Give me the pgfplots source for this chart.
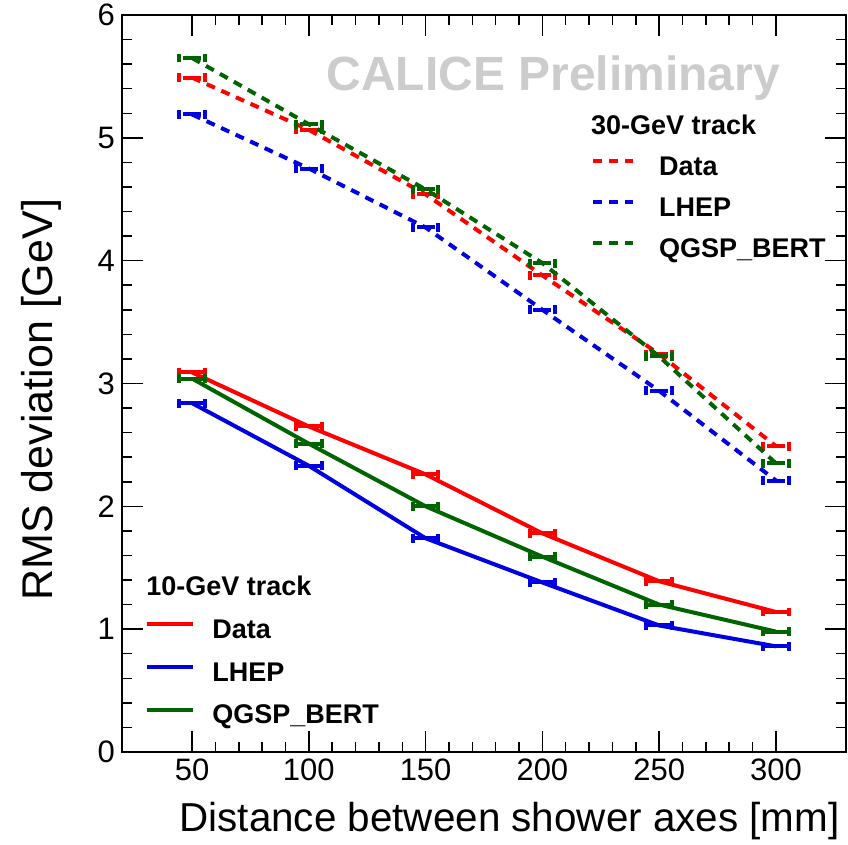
\documentclass[border=0pt]{standalone}
\usepackage{pgfplots}
\usepackage{pgfplotstable}
\pgfplotsset{compat=1.18}
\usepackage{fontspec}
\setmainfont{Liberation Sans}
\definecolor{rred}{RGB}{255,0,0}
\definecolor{rblue}{RGB}{0,0,225}
\definecolor{rgreen}{RGB}{0,100,0}
\definecolor{calgray}{RGB}{204,204,204}

\pgfplotstableread{
x   d10  l10  q10  d30   l30  q30
50  3.09 2.84 3.04 5.49  5.19 5.65
100 2.65 2.33 2.51 5.065 4.75 5.11
150 2.26 1.74 2.00 4.54  4.27 4.58
200 1.78 1.38 1.59 3.88  3.60 3.98
250 1.39 1.03 1.20 3.24  2.94 3.22
300 1.14 0.86 0.98 2.49  2.21 2.35
}\datatab

\pgfplotsset{
  common/.style={scale only axis, width=362pt, height=368.5pt,
    xmin=20, xmax=330, ymin=0, ymax=6, at={(0,0)}, anchor=south west},
  sol/.style={#1, line width=2pt, error bars/.cd, x dir=both, x fixed=5.5,
    error bar style={line width=2pt, solid}, error mark=|, error mark options={line width=2pt, mark size=2.2pt, solid}},
  das/.style={#1, line width=2pt, dash pattern=on 4.5pt off 3.5pt, error bars/.cd, x dir=both, x fixed=5.5,
    error bar style={line width=2pt}, error mark=|, error mark options={line width=2pt, mark size=2.2pt, solid}},
}

\begin{document}
\begin{tikzpicture}
\begin{axis}[common,
  xtick={50,100,...,300}, ytick={0,1,...,6},
  minor x tick num=4, minor y tick num=4,
  tick align=inside, major tick length=10.5pt, minor tick length=5pt,
  axis line style={line width=0.75pt},
  every tick/.style={black, line width=0.75pt},
  ticklabel style={font=\fontsize{15.5}{18}\selectfont},
  /pgf/number format/assume math mode=true,
  xlabel={Distance between shower axes [mm]},
  ylabel={RMS deviation [GeV]},
  xlabel style={font=\fontsize{20.2}{24}\selectfont, at={(axis description cs:0.9917,-0.1085)}, anchor=base east, inner sep=0pt},
  ylabel style={font=\fontsize{21.5}{24}\selectfont, at={(axis description cs:-0.0953,0.478)}, anchor=base, inner sep=0pt},
  legend style={draw=none, fill=none, at={(axis description cs:0.0235,0.245)}, anchor=north west,
    font=\bfseries\fontsize{13.5}{16}\selectfont,
    nodes={inner sep=0pt, text height=10pt, text depth=3pt}, row sep=8.3pt, column sep=8.5pt},
  legend cell align=left,
  legend image code/.code={\draw[#1, line width=2pt] (0pt,3.5pt) -- (23pt,3.5pt);},
]
\addlegendimage{empty legend}
\addlegendentry{\hspace*{-33pt}10-GeV track}
\addplot[sol=rred] table[x=x, y=d10] {\datatab};
\addlegendentry{Data}
\addplot[sol=rblue] table[x=x, y=l10] {\datatab};
\addlegendentry{LHEP}
\addplot[sol=rgreen] table[x=x, y=q10] {\datatab};
\addlegendentry{QGSP\_BERT}
\node[anchor=base west, font=\bfseries\fontsize{24}{28}\selectfont, text=calgray, inner sep=0pt] at (axis description cs:0.2818,0.898) {CALICE Preliminary};
\end{axis}
\begin{axis}[common, hide axis,
  legend style={draw=none, fill=none, at={(axis description cs:0.639,0.8714)}, anchor=north west,
    font=\bfseries\fontsize{13.5}{16}\selectfont,
    nodes={inner sep=0pt, text height=10pt, text depth=3pt}, row sep=7.5pt, column sep=12pt},
  legend cell align=left,
  legend image code/.code={\draw[#1, line width=2pt, dash pattern=on 4.5pt off 3.5pt] (0pt,3.5pt) -- (20pt,3.5pt);},
]
\addlegendimage{empty legend}
\addlegendentry{\hspace*{-34pt}30-GeV track}
\addplot[das=rred] table[x=x, y=d30] {\datatab};
\addlegendentry{Data}
\addplot[das=rblue] table[x=x, y=l30] {\datatab};
\addlegendentry{LHEP}
\addplot[das=rgreen] table[x=x, y=q30] {\datatab};
\addlegendentry{QGSP\_BERT}
\end{axis}
\pgfresetboundingbox
\path[use as bounding box] (-61pt,-46.5pt) rectangle (363pt,376pt);
\end{tikzpicture}
\end{document}
